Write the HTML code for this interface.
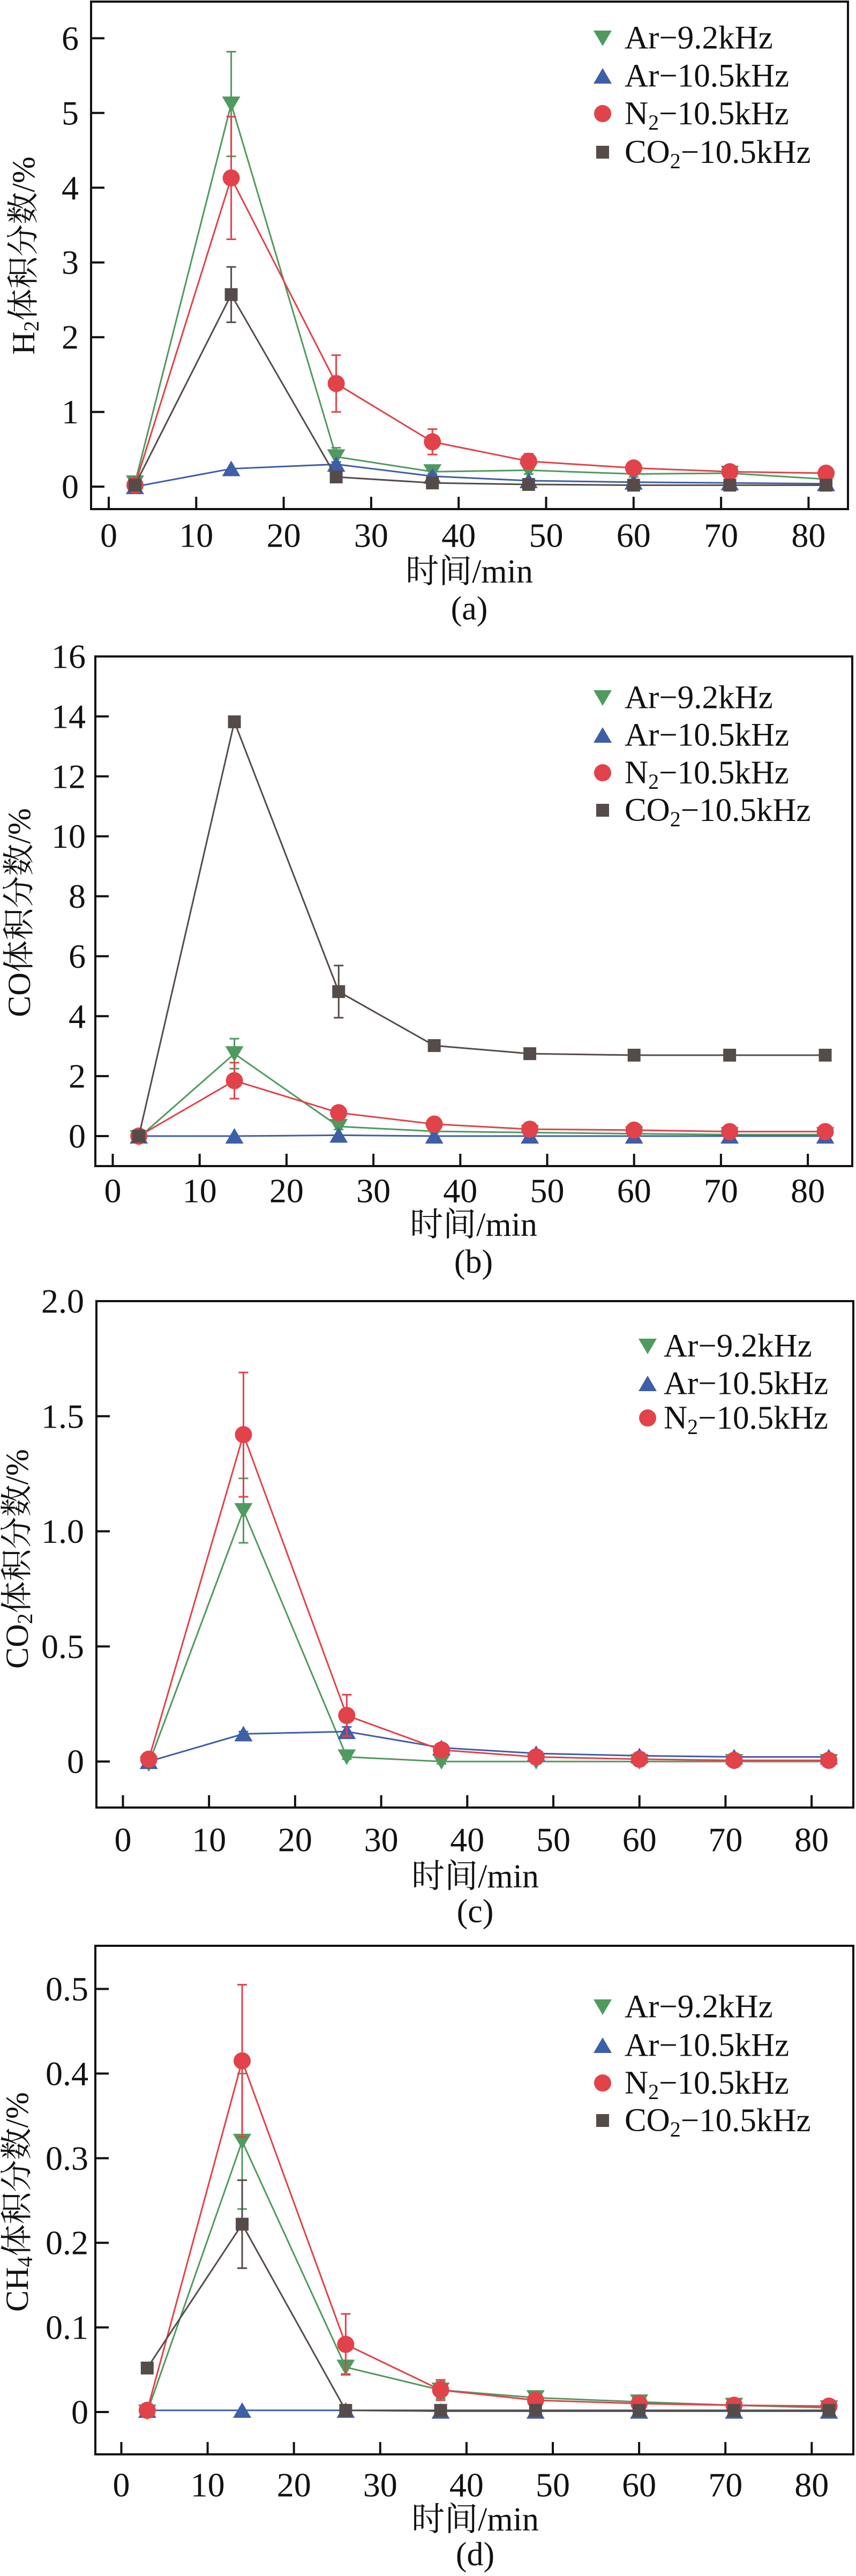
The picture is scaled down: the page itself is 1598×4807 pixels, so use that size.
<!DOCTYPE html>
<html><head><meta charset="utf-8"><style>
html,body{margin:0;padding:0;background:#fff;}
svg{display:block;}
text{font-family:"Liberation Serif","Noto Serif CJK SC",serif;fill:#111;}
</style></head>
<body>
<svg id="fig" width="1598" height="4807" viewBox="0 0 1598 4807" xmlns="http://www.w3.org/2000/svg"></svg>
<script>
// shared x categories (time, min)
const timeMin = [3, 14, 26, 37, 48, 60, 71, 82];
const xTicks = [0, 10, 20, 30, 40, 50, 60, 70, 80];

// panel a: H2
const aTicks = [0, 1, 2, 3, 4, 5, 6];
const aAr92 = [0.05, 5.12, 0.40, 0.20, 0.22, 0.17, 0.18, 0.10];
const aAr92Err = [0.03, 0.70, 0.12, 0.03, 0.05, 0.04, 0.05, 0.03];
const aAr105 = [0.00, 0.24, 0.30, 0.14, 0.08, 0.06, 0.05, 0.04];
const aAr105Err = [0, 0, 0.03, 0.02, 0.02, 0.01, 0.01, 0.01];
const aN2 = [0.02, 4.13, 1.38, 0.60, 0.34, 0.25, 0.20, 0.18];
const aN2Err = [0.02, 0.82, 0.38, 0.17, 0.10, 0.06, 0.05, 0.03];
const aCO2 = [0.02, 2.57, 0.13, 0.05, 0.03, 0.02, 0.02, 0.02];
const aCO2Err = [0, 0.37, 0.02, 0.01, 0.01, 0.01, 0.01, 0.01];

// panel b: CO
const bTicks = [0, 2, 4, 6, 8, 10, 12, 14, 16];
const bAr92 = [-0.05, 2.75, 0.32, 0.16, 0.12, 0.08, 0.05, 0.05];
const bAr92Err = [0.05, 0.50, 0.10, 0.05, 0.05, 0.05, 0.05, 0.05];
const bAr105 = [0, 0, 0.03, 0, 0, 0, 0, 0];
const bAr105Err = [0, 0, 0, 0, 0, 0, 0, 0];
const bN2 = [0, 1.85, 0.78, 0.40, 0.23, 0.20, 0.15, 0.15];
const bN2Err = [0, 0.60, 0.10, 0.05, 0.05, 0.04, 0.03, 0.03];
const bCO2 = [0, 13.82, 4.82, 3.02, 2.75, 2.70, 2.70, 2.70];
const bCO2Err = [0, 0.1, 0.87, 0.08, 0.05, 0.05, 0.05, 0.05];

// panel c: CO2
const cTicks = [0, 0.5, 1.0, 1.5, 2.0];
const cTickLabels = ["0", "0.5", "1.0", "1.5", "2.0"];
const cAr92 = [-0.01, 1.09, 0.02, 0.00, 0.00, 0.00, 0.00, 0.00];
const cAr92Err = [0, 0.14, 0.01, 0.01, 0.01, 0.01, 0.01, 0.01];
const cAr105 = [0, 0.12, 0.13, 0.06, 0.035, 0.025, 0.02, 0.02];
const cAr105Err = [0, 0.01, 0.02, 0.01, 0.01, 0.01, 0.01, 0.01];
const cN2 = [0.01, 1.42, 0.20, 0.05, 0.02, 0.01, 0.005, 0.005];
const cN2Err = [0, 0.27, 0.09, 0.01, 0.01, 0.01, 0.01, 0.01];

// panel d: CH4
const dTicks = [0, 0.1, 0.2, 0.3, 0.4, 0.5];
const dTickLabels = ["0", "0.1", "0.2", "0.3", "0.4", "0.5"];
const dAr92 = [0.000, 0.320, 0.053, 0.026, 0.017, 0.012, 0.008, 0.005];
const dAr92Err = [0.002, 0.080, 0.008, 0.010, 0.006, 0.003, 0.002, 0.002];
const dAr105 = [0.002, 0.002, 0.002, 0.001, 0.001, 0.001, 0.001, 0.001];
const dAr105Err = [0, 0, 0, 0, 0, 0, 0, 0];
const dN2 = [0.002, 0.415, 0.080, 0.026, 0.014, 0.010, 0.008, 0.007];
const dN2Err = [0.001, 0.090, 0.036, 0.012, 0.004, 0.003, 0.002, 0.002];
const dCO2 = [0.052, 0.222, 0.002, 0.002, 0.002, 0.002, 0.002, 0.002];
const dCO2Err = [0, 0.052, 0, 0, 0, 0, 0, 0];

const NS = "http://www.w3.org/2000/svg";
const svg = document.getElementById('fig');
const COL = {g:'#4f9a5e', b:'#3f5ea8', r:'#e2424a', k:'#554c4a'};

function mk(tag, attrs, parent){
  const e = document.createElementNS(NS, tag);
  for (const k in attrs) e.setAttribute(k, attrs[k]);
  (parent||svg).appendChild(e);
  return e;
}

function marker(g, type, cx, cy, color){
  let m;
  if (type==='down'){
    m = mk('polygon', {points:`${cx-17},${cy-14} ${cx+17},${cy-14} ${cx},${cy+15}`, fill:color}, g);
  } else if (type==='up'){
    m = mk('polygon', {points:`${cx-17},${cy+14} ${cx+17},${cy+14} ${cx},${cy-15}`, fill:color}, g);
  } else if (type==='circle'){
    m = mk('circle', {cx:cx, cy:cy, r:16, fill:color}, g);
  } else {
    m = mk('rect', {x:cx-12, y:cy-12, width:24, height:24, fill:color}, g);
  }
  return m;
}

function panel(cfg){
  const P = mk('g', {});
  
  
  const L=cfg.left, R=cfg.right, T=cfg.top, B=cfg.bottom;
  const x0px=cfg.x0px, pxPerMin=cfg.pxPerMin;
  const sx = v => x0px + v*pxPerMin;
  const sy = v => B - (v - cfg.ymin)/(cfg.ymax - cfg.ymin)*(B-T);
  // frame
  const fr = mk('rect', {x:L, y:T, width:R-L, height:B-T, fill:'none', stroke:'#111', 'stroke-width':4}, P);
  
  
  // x ticks
  xTicks.forEach(t=>{
    const x=sx(t);
    const tk = mk('line', {x1:x, y1:B, x2:x, y2:B-23, stroke:'#111', 'stroke-width':4}, P);
    
    
    const tl = mk('text', {x:x, y:cfg.xLabY, 'font-size':64, 'text-anchor':'middle', 'dominant-baseline':'central'}, P);
    tl.textContent = String(t);
    
    
  });
  // y ticks
  cfg.yTicks.forEach((t,i)=>{
    const y=sy(t);
    const tk = mk('line', {x1:L, y1:y, x2:L+25, y2:y, stroke:'#111', 'stroke-width':4}, P);
    
    
    const tl = mk('text', {x:cfg.yLabX, y:y, 'font-size':64, 'text-anchor':'end', 'dominant-baseline':'central'}, P);
    tl.textContent = cfg.yTickLabels ? cfg.yTickLabels[i] : String(t);
    
    
  });
  // y title
  const yt = mk('text', {x:0, y:0, 'font-size':60, 'text-anchor':'middle', 'dominant-baseline':'central', transform:`translate(${cfg.yTitleX},${cfg.yTitleY}) rotate(-90)`}, P);
  yt.innerHTML = cfg.yTitle;
  
  
  // x title
  const xt = mk('text', {x:cfg.xTitleX, y:cfg.xTitleY, 'font-size':62, 'text-anchor':'middle', 'dominant-baseline':'central'}, P);
  xt.textContent = '时间/min';
  
  
  const cap = mk('text', {x:cfg.xTitleX, y:cfg.capY, 'font-size':62, 'text-anchor':'middle', 'dominant-baseline':'central'}, P);
  cap.textContent = cfg.caption;
  
  
  // series
  cfg.series.forEach(s=>{
    const g = mk('g', {}, P);
    
    
    const pts = s.vals.map((v,i)=>`${sx(timeMin[i])},${sy(v)}`).join(' ');
    const ln = mk('polyline', {points:pts, fill:'none', stroke:s.color, 'stroke-width':3}, g);
    
    
    s.vals.forEach((v,i)=>{
      const e = s.err[i];
      const x = sx(timeMin[i]);
      if (e > 0){
        const y1=sy(v+e), y2=sy(v-e);
        const eb = mk('path', {d:`M${x},${y1}V${y2}M${x-9},${y1}H${x+9}M${x-9},${y2}H${x+9}`, stroke:s.color, 'stroke-width':3, fill:'none'}, g);
        
        
      }
      const m = marker(g, s.type, x, sy(v), s.color);
      
      
    });
  });
  // legend
  const lg = mk('g', {}, P);
  
  
  cfg.series.forEach((s,i)=>{
    const y = cfg.legY[i];
    const m = marker(lg, s.type, cfg.legMX, y, s.color);
    
    
    const t = mk('text', {x:cfg.legTX, y:y, 'font-size':61, 'dominant-baseline':'central'}, lg);
    t.innerHTML = s.label;
    
    
  });
}

const sub2 = '<tspan font-size="40" dy="16">2</tspan><tspan dy="-16">';
const lblAr92 = 'Ar−9.2kHz';
const lblAr105 = 'Ar−10.5kHz';
const lblN2 = 'N' + sub2 + '−10.5kHz</tspan>';
const lblCO2 = 'CO' + sub2 + '−10.5kHz</tspan>';

panel({name:'panel-a-h2', left:170, right:1583, top:3, bottom:950, x0px:203, pxPerMin:16.33,
  ymin:-0.3, ymax:6.49, yTicks:aTicks, yLabX:147, xLabY:999,
  yTitle:'H<tspan font-size="40" dy="14">2</tspan><tspan dy="-14">体积分数/%</tspan>', yTitleX:44, yTitleY:477,
  xTitleX:876, xTitleY:1067, capY:1136, caption:'(a)',
  legMX:1125, legTX:1166, legY:[71,142,212,284],
  series:[
    {name:'series-ar-9-2khz', type:'down', color:COL.g, vals:aAr92, err:aAr92Err, label:lblAr92},
    {name:'series-ar-10-5khz', type:'up', color:COL.b, vals:aAr105, err:aAr105Err, label:lblAr105},
    {name:'series-n2-10-5khz', type:'circle', color:COL.r, vals:aN2, err:aN2Err, label:lblN2},
    {name:'series-co2-10-5khz', type:'square', color:COL.k, vals:aCO2, err:aCO2Err, label:lblCO2}
  ]});

panel({name:'panel-b-co', left:178, right:1591, top:1225, bottom:2176, x0px:210.5, pxPerMin:16.22,
  ymin:-1, ymax:16, yTicks:bTicks, yLabX:160, xLabY:2222,
  yTitle:'CO体积分数/%', yTitleX:36, yTitleY:1703,
  xTitleX:884, xTitleY:2286, capY:2355, caption:'(b)',
  legMX:1125, legTX:1166, legY:[1302,1372,1442,1512],
  series:[
    {name:'series-ar-9-2khz', type:'down', color:COL.g, vals:bAr92, err:bAr92Err, label:lblAr92},
    {name:'series-ar-10-5khz', type:'up', color:COL.b, vals:bAr105, err:bAr105Err, label:lblAr105},
    {name:'series-n2-10-5khz', type:'circle', color:COL.r, vals:bN2, err:bN2Err, label:lblN2},
    {name:'series-co2-10-5khz', type:'square', color:COL.k, vals:bCO2, err:bCO2Err, label:lblCO2}
  ]});

panel({name:'panel-c-co2', left:180, right:1593, top:2428, bottom:3373, x0px:229.5, pxPerMin:16.07,
  ymin:-0.2, ymax:2.0, yTicks:cTicks, yTickLabels:cTickLabels, yLabX:157, xLabY:3433,
  yTitle:'CO<tspan font-size="40" dy="14">2</tspan><tspan dy="-14">体积分数/%</tspan>', yTitleX:32, yTitleY:2909,
  xTitleX:887, xTitleY:3502, capY:3567, caption:'(c)',
  legMX:1209, legTX:1239, legY:[2512,2582,2646],
  series:[
    {name:'series-ar-9-2khz', type:'down', color:COL.g, vals:cAr92, err:cAr92Err, label:lblAr92},
    {name:'series-ar-10-5khz', type:'up', color:COL.b, vals:cAr105, err:cAr105Err, label:lblAr105},
    {name:'series-n2-10-5khz', type:'circle', color:COL.r, vals:cN2, err:cN2Err, label:lblN2}
  ]});

panel({name:'panel-d-ch4', left:178, right:1593, top:3631, bottom:4580, x0px:226.5, pxPerMin:16.11,
  ymin:-0.05, ymax:0.551, yTicks:dTicks, yTickLabels:dTickLabels, yLabX:165, xLabY:4637,
  yTitle:'CH<tspan font-size="40" dy="14">4</tspan><tspan dy="-14">体积分数/%</tspan>', yTitleX:32, yTitleY:4109,
  xTitleX:887, xTitleY:4702, capY:4767, caption:'(d)',
  legMX:1125, legTX:1166, legY:[3745,3817,3887,3957],
  series:[
    {name:'series-ar-9-2khz', type:'down', color:COL.g, vals:dAr92, err:dAr92Err, label:lblAr92},
    {name:'series-ar-10-5khz', type:'up', color:COL.b, vals:dAr105, err:dAr105Err, label:lblAr105},
    {name:'series-n2-10-5khz', type:'circle', color:COL.r, vals:dN2, err:dN2Err, label:lblN2},
    {name:'series-co2-10-5khz', type:'square', color:COL.k, vals:dCO2, err:dCO2Err, label:lblCO2}
  ]});
</script>
</body></html>
